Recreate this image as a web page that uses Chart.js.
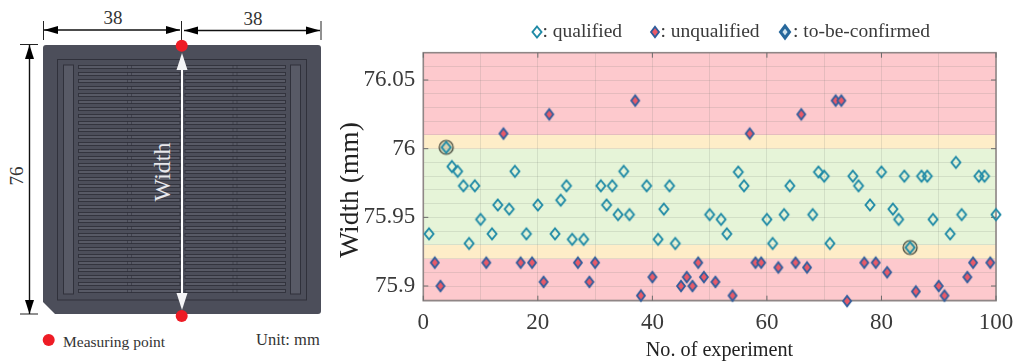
<!DOCTYPE html>
<html>
<head>
<meta charset="utf-8">
<title>Width measurement</title>
<script src="https://cdn.jsdelivr.net/npm/chart.js@4"></script>
<style>
  html, body { margin: 0; padding: 0; background: #fff; }
  #page { position: relative; width: 1024px; height: 364px; overflow: hidden; }
  #drawing { position: absolute; left: 0; top: 0; }
  #chartBox { position: absolute; left: 340px; top: 0; width: 684px; height: 364px; }
  text { font-family: "Liberation Serif", serif; }
</style>
</head>
<body>
<div id="page">
  <svg id="drawing" width="340" height="364" viewBox="0 0 340 364"></svg>
  <div id="chartBox"><canvas id="widthChart"></canvas></div>
</div>
<script>
const qualifiedNo = [1,5,6,7,8,9,10,12,13,15,16,18,20,23,24,25,26,28,31,32,33,34,35,36,39,41,42,43,44,50,52,53,55,56,60,61,63,64,68,69,70,71,75,76,78,80,82,83,84,87,88,89,92,93,94,97,98,100];
const qualifiedWidth = [75.938,75.987,75.9835,75.973,75.931,75.973,75.9485,75.938,75.959,75.956,75.9835,75.938,75.959,75.938,75.9625,75.973,75.934,75.934,75.973,75.959,75.973,75.952,75.9835,75.952,75.973,75.934,75.956,75.973,75.931,75.952,75.9485,75.938,75.983,75.973,75.9485,75.931,75.952,75.973,75.952,75.983,75.98,75.931,75.98,75.973,75.959,75.983,75.956,75.9485,75.98,75.98,75.98,75.9485,75.938,75.99,75.952,75.98,75.98,75.952];
const unqualifiedNo = [2,3,11,14,17,19,21,22,27,29,30,37,38,40,45,46,47,48,49,51,54,57,58,59,62,65,66,67,72,73,74,77,79,81,86,90,91,95,96,99];
const unqualifiedWidth = [75.917,75.9,75.917,76.011,75.917,75.917,75.903,76.025,75.917,75.903,75.917,76.035,75.893,75.9065,75.9,75.9065,75.9,75.917,75.9065,75.903,75.893,76.011,75.917,75.917,75.9135,75.917,76.025,75.9135,76.035,76.035,75.889,75.917,75.917,75.91,75.896,75.9,75.893,75.9065,75.917,75.917];
const confirmNo = [4,85];
const confirmWidth = [76.001,75.928];

const xGridValues = [0,10,20,30,40,50,60,70,80,90,100];
const xTickLabels = ['0','20','40','60','80','100'];
const yGridValues = [75.89,75.9,75.91,75.92,75.93,75.94,75.95,75.96,75.97,75.98,75.99,76,76.01,76.02,76.03,76.04,76.05,76.06,76.07];
const yTickValues = [75.9,75.95,76,76.05];
const yTickLabels = ['75.9','75.95','76','76.05'];

// limits of the coloured zones
const bandLimits = [75.8893,75.92,75.93,76,76.01,76.0699];
const bandColors = ['#fdc9cd','#feedc8','#e6f4d8','#feedc8','#fdc9cd'];

const SERIF = '"Liberation Serif", serif';
const TEXT_GREY = '#3a3a3a';

/* ---------- marker images ---------- */
function diamond(ctx, cx, cy, w, h) {
    ctx.beginPath();
    ctx.moveTo(cx, cy - h / 2);
    ctx.lineTo(cx + w / 2, cy);
    ctx.lineTo(cx, cy + h / 2);
    ctx.lineTo(cx - w / 2, cy);
    ctx.closePath();
}

function makeMarker(kind) {
    const c = document.createElement('canvas');
    c.width = 22;
    c.height = 22;
    const ctx = c.getContext('2d');
    if (kind === 'unqualified') {
        diamond(ctx, 11, 11, 8, 10.5);
        ctx.fillStyle = '#ea5a68';
        ctx.fill();
        ctx.strokeStyle = '#2d5c9c';
        ctx.lineWidth = 1.8;
        ctx.stroke();
    } else if (kind === 'legendConfirm') {
        diamond(ctx, 11, 11, 9, 12);
        ctx.fillStyle = '#cfe3ee';
        ctx.fill();
        ctx.strokeStyle = '#27689c';
        ctx.lineWidth = 3;
        ctx.stroke();
    } else {
        if (kind === 'confirm') {
            ctx.beginPath();
            ctx.arc(11, 11, 7, 0, Math.PI * 2);
            ctx.fillStyle = 'rgba(170,170,140,0.4)';
            ctx.fill();
            ctx.strokeStyle = '#3f4236';
            ctx.lineWidth = 1.2;
            ctx.stroke();
        }
        diamond(ctx, 11, 11, 9, 11);
        ctx.strokeStyle = '#1f8aa6';
        ctx.lineWidth = 1.9;
        ctx.stroke();
    }
    return c;
}

const qualifiedMarker = makeMarker('qualified');
const unqualifiedMarker = makeMarker('unqualified');
const confirmMarker = makeMarker('confirm');
const legendConfirmMarker = makeMarker('legendConfirm');

/* ---------- chart ---------- */
const bandPlugin = {
    id: 'bands',
    beforeDraw(chart) {
        const { ctx, chartArea: a, scales: { y } } = chart;
        ctx.save();
        bandColors.forEach((color, i) => {
            const top = y.getPixelForValue(bandLimits[i + 1]);
            const bottom = y.getPixelForValue(bandLimits[i]);
            ctx.fillStyle = color;
            ctx.fillRect(a.left, top, a.right - a.left, bottom - top);
        });
        ctx.restore();
    }
};

// tick marks inside the box, the axis names and the legend line above it
const framePlugin = {
    id: 'frame',
    beforeDatasetsDraw(chart) {
        const { ctx, chartArea: a, scales: { x, y } } = chart;
        ctx.save();
        ctx.strokeStyle = '#8f8686';
        ctx.lineWidth = 1.6;
        ctx.strokeRect(a.left, a.top, a.right - a.left, a.bottom - a.top);
        ctx.strokeStyle = '#6a6a6a';
        ctx.lineWidth = 1;
        ctx.beginPath();
        xTickLabels.forEach(label => {
            const px = x.getPixelForValue(Number(label));
            ctx.moveTo(px, a.top);
            ctx.lineTo(px, a.top + 5);
            ctx.moveTo(px, a.bottom);
            ctx.lineTo(px, a.bottom - 5);
        });
        yTickValues.forEach(v => {
            const py = y.getPixelForValue(v);
            ctx.moveTo(a.left, py);
            ctx.lineTo(a.left + 5, py);
            ctx.moveTo(a.right, py);
            ctx.lineTo(a.right - 5, py);
        });
        ctx.stroke();
        ctx.restore();
    },
    afterDraw(chart) {
        const ctx = chart.ctx;
        ctx.save();
        ctx.textBaseline = 'alphabetic';
        ctx.font = '19.5px ' + SERIF;
        ctx.fillStyle = TEXT_GREY;
        ctx.drawImage(qualifiedMarker, 186, 21);
        ctx.fillText(': qualified', 202.5, 37);
        ctx.drawImage(unqualifiedMarker, 304, 21);
        ctx.fillText(': unqualified', 320.5, 37);
        ctx.drawImage(legendConfirmMarker, 434, 21);
        ctx.fillText(': to-be-confirmed', 453, 37);

        ctx.fillStyle = '#222';
        ctx.textAlign = 'center';
        ctx.font = '20.2px ' + SERIF;
        ctx.fillText('No. of experiment', 379.5, 356);
        ctx.translate(18, 190);
        ctx.rotate(-Math.PI / 2);
        ctx.font = '27.5px ' + SERIF;
        ctx.fillText('Width (mm)', 0, 0);
        ctx.restore();
    }
};

function toPoints(xs, ys) {
    return xs.map((no, i) => ({ x: no, y: ys[i] }));
}

function scatterSet(label, xs, ys, marker) {
    return {
        label: label,
        data: toPoints(xs, ys),
        pointStyle: marker,
        pointRadius: 6,
        clip: false
    };
}

new Chart(document.getElementById('widthChart'), {
    type: 'scatter',
    data: {
        datasets: [
            scatterSet('qualified', qualifiedNo, qualifiedWidth, qualifiedMarker),
            scatterSet('unqualified', unqualifiedNo, unqualifiedWidth, unqualifiedMarker),
            scatterSet('to-be-confirmed', confirmNo, confirmWidth, confirmMarker)
        ]
    },
    plugins: [bandPlugin, framePlugin],
    options: {
        responsive: true,
        maintainAspectRatio: false,
        animation: false,
        layout: { padding: { top: 52.7, right: 28, left: 0, bottom: 0 } },
        plugins: {
            legend: { display: false },
            tooltip: { enabled: false }
        },
        scales: {
            x: {
                type: 'linear',
                min: 0,
                max: 100,
                afterFit(axis) { axis.height = 63.3; },
                afterBuildTicks(axis) { axis.ticks = xGridValues.map(v => ({ value: v })); },
                grid: { color: 'rgba(110,120,110,0.17)', lineWidth: 1, drawTicks: false },
                border: { display: false },
                ticks: {
                    autoSkip: false,
                    maxRotation: 0,
                    padding: 8,
                    color: TEXT_GREY,
                    font: { family: SERIF, size: 23 },
                    callback: v => (xTickLabels.includes(String(v)) ? String(v) : '')
                }
            },
            y: {
                type: 'linear',
                min: bandLimits[0],
                max: bandLimits[bandLimits.length - 1],
                afterFit(axis) { axis.width = 83.3; },
                afterBuildTicks(axis) { axis.ticks = yGridValues.map(v => ({ value: v })); },
                grid: { color: 'rgba(110,120,110,0.17)', lineWidth: 1, drawTicks: false },
                border: { display: false },
                ticks: {
                    autoSkip: false,
                    padding: 8,
                    color: TEXT_GREY,
                    font: { family: SERIF, size: 23 },
                    callback: function(v) {
                        const i = yTickValues.findIndex(t => Math.abs(t - v) < 1e-6);
                        return i >= 0 ? yTickLabels[i] : '';
                    }
                }
            }
        }
    }
});

/* ---------- device sketch on the left ---------- */
const NS = 'http://www.w3.org/2000/svg';
const svg = document.getElementById('drawing');

function add(tag, attrs, content) {
    const el = document.createElementNS(NS, tag);
    Object.keys(attrs).forEach(k => el.setAttribute(k, attrs[k]));
    if (content) el.textContent = content;
    svg.appendChild(el);
    return el;
}

const PLATE = '#4c4e5a';
const LINE = '#30313b';
const SLOT = '#585a66';

add('path', { d: 'M46 45 H318 Q321 45 321 48 V311 Q321 314 318 314 H55 L43 302 V48 Q43 45 46 45 Z', fill: PLATE });
add('rect', { x: 57.5, y: 59.5, width: 249, height: 240.5, fill: 'none', stroke: LINE, 'stroke-width': 1 });
add('rect', { x: 63.5, y: 65, width: 10, height: 229, fill: SLOT, stroke: LINE, 'stroke-width': 1 });
add('rect', { x: 290.5, y: 65, width: 10, height: 229, fill: SLOT, stroke: LINE, 'stroke-width': 1 });

// the slots of the plate
for (let row = 0; row < 33; row++) {
    const top = 65.5 + row * 7;
    add('rect', { x: 78.5, y: top, width: 101.5, height: 3, fill: SLOT, stroke: LINE, 'stroke-width': 0.9 });
    add('rect', { x: 185, y: top, width: 100.5, height: 3, fill: SLOT, stroke: LINE, 'stroke-width': 0.9 });
}
[127.5, 131.5, 233, 237].forEach(x => {
    add('line', { x1: x, y1: 65, x2: x, y2: 295, stroke: LINE, 'stroke-width': 0.8, 'stroke-dasharray': '4 3', opacity: 0.7 });
});

function arrowHead(x, y, dx, dy, len, half, color) {
    const bx = x - dx * len, by = y - dy * len;
    const px = -dy * half, py = dx * half;
    add('polygon', { points: `${x},${y} ${bx + px},${by + py} ${bx - px},${by - py}`, fill: color });
}

// dimension lines
[[43.5, 21, 43.5, 40], [181.5, 21, 181.5, 42], [321, 21, 321, 40], [20, 44.5, 38, 44.5], [20, 314, 38, 314]].forEach(l => {
    add('line', { x1: l[0], y1: l[1], x2: l[2], y2: l[3], stroke: '#222', 'stroke-width': 1 });
});
add('line', { x1: 44, y1: 30, x2: 180, y2: 30, stroke: '#111', 'stroke-width': 1.4 });
add('line', { x1: 184, y1: 30.5, x2: 320, y2: 30.5, stroke: '#111', 'stroke-width': 1.4 });
add('line', { x1: 29.5, y1: 45, x2: 29.5, y2: 314, stroke: '#111', 'stroke-width': 1.4 });
arrowHead(44, 30, -1, 0, 14, 4, '#000');
arrowHead(180, 30, 1, 0, 14, 4, '#000');
arrowHead(184, 30.5, -1, 0, 14, 4, '#000');
arrowHead(320, 30.5, 1, 0, 14, 4, '#000');
arrowHead(29.5, 45, 0, -1, 14, 4.5, '#000');
arrowHead(29.5, 314, 0, 1, 14, 4.5, '#000');

// measured width, white arrow
add('line', { x1: 182, y1: 60, x2: 182, y2: 300, stroke: '#fff', 'stroke-width': 2 });
arrowHead(182, 53, 0, -1, 17, 5.5, '#f4f4f6');
arrowHead(182, 310, 0, 1, 17, 5.5, '#f4f4f6');

add('circle', { cx: 181.7, cy: 45.7, r: 6, fill: '#ee1c25' });
add('circle', { cx: 181.7, cy: 316, r: 6, fill: '#ee1c25' });
add('circle', { cx: 48.7, cy: 340, r: 6, fill: '#ee1c25' });

add('text', { x: 113, y: 24, 'text-anchor': 'middle', 'font-size': 19, fill: '#333' }, '38');
add('text', { x: 253, y: 25, 'text-anchor': 'middle', 'font-size': 19, fill: '#333' }, '38');
add('text', { x: 0, y: 0, transform: 'translate(23,176) rotate(-90)', 'text-anchor': 'middle', 'font-size': 19, fill: '#333' }, '76');
add('text', { x: 0, y: 0, transform: 'translate(170,172) rotate(-90)', 'text-anchor': 'middle', 'font-size': 24, fill: '#e8e8ec' }, 'Width');
add('text', { x: 63, y: 347, 'font-size': 15.5, fill: '#333' }, 'Measuring point');
add('text', { x: 256, y: 345, 'font-size': 16.5, fill: '#333' }, 'Unit: mm');
</script>
</body>
</html>
